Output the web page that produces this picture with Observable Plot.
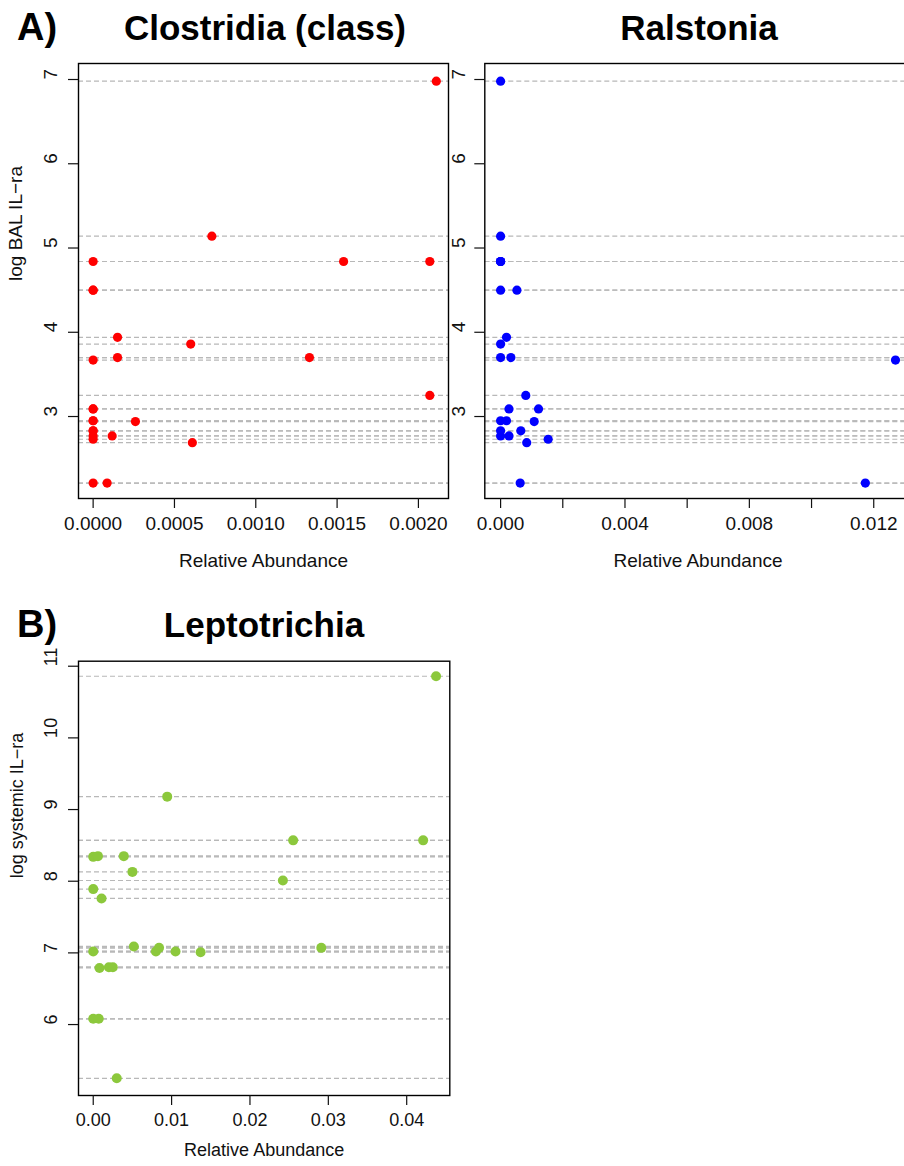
<!DOCTYPE html>
<html><head><meta charset="utf-8">
<script src="https://cdn.jsdelivr.net/npm/d3@7"></script>
<script src="https://cdn.jsdelivr.net/npm/@observablehq/plot@0.6"></script>
<style>
html,body{margin:0;padding:0;width:904px;height:1166px;overflow:hidden;background:#fff;}
#root{position:relative;width:904px;height:1166px;font-family:"Liberation Sans",Arial,sans-serif;}
.panel{position:absolute;}
.ttl{position:absolute;font-weight:bold;line-height:1;white-space:nowrap;color:#000;}
</style></head><body><div id="root"></div>
<script>
// ---- Data ----
// Panel A: log BAL IL-ra per subject (shared by both A panels)
const balILra = [6.98, 5.14, 4.84, 4.84, 4.84, 4.50, 4.50, 3.94, 3.86, 3.70, 3.70, 3.67, 3.25,
  3.09, 3.09, 2.95, 2.95, 2.94, 2.83, 2.83, 2.77, 2.77, 2.73, 2.69, 2.21, 2.21];
// Relative abundance of Clostridia (class) for the same subjects
const clostridiaAbund = [0.00211, 0.00073, 0, 0.00154, 0.00207, 0, 0, 0.00015, 0.00060, 0.00015,
  0.00133, 0, 0.00207, 0, 0, 0, 0, 0.00026, 0, 0, 0, 0.000117, 0, 0.00061, 0, 0.000086];
// Relative abundance of Ralstonia for the same subjects
const ralstoniaAbund = [0, 0, 0, 0, 0, 0, 0.000525, 0.00019, 0, 0, 0.00033, 0.0127, 0.00081,
  0.00027, 0.00122, 0, 0.00019, 0.00108, 0, 0.00065, 0, 0.00027, 0.00153, 0.00084, 0.00063, 0.01173];
// Panel B: log systemic IL-ra and Leptotrichia relative abundance
const systemicILra = [10.86, 9.18, 8.57, 8.57, 8.34, 8.35, 8.35, 8.13, 8.01, 7.89, 7.76, 7.09,
  7.02, 7.07, 7.02, 7.01, 7.07, 7.02, 6.79, 6.80, 6.80, 6.08, 6.08, 5.25];
const leptoAbund = [0.04375, 0.00944, 0.02551, 0.0421, 0, 0.0006, 0.0039, 0.0050, 0.0242, 0,
  0.00106, 0.00518, 0.0080, 0.0084, 0.0105, 0.0137, 0.0291, 0, 0.0008, 0.0020, 0.0025, 0, 0.0007, 0.0030];

// Tick values
const clostridiaTicks = [0, 0.0005, 0.0010, 0.0015, 0.0020];
const ralstoniaTicks = [0, 0.002, 0.004, 0.006, 0.008, 0.010, 0.012];
const ralstoniaLabelled = [0, 0.004, 0.008, 0.012];
const leptoTicks = [0, 0.01, 0.02, 0.03, 0.04];
const balTicks = [3, 4, 5, 6, 7];
const sysTicks = [6, 7, 8, 9, 10, 11];

const FONT = '"Liberation Sans", Arial, sans-serif';

function panel(o) {
  const data = o.xs.map((x, i) => ({x, y: o.ys[i]}));
  const marks = [
    Plot.ruleY(o.ys, {stroke: "#b8b8b8", strokeDasharray: "5,3", strokeWidth: 1.2}),
    Plot.dot(data, {x: "x", y: "y", r: o.r, fill: o.color, stroke: "none"}),
    Plot.frame({stroke: "#000", strokeWidth: 1.4}),
    Plot.axisX({ticks: o.xTicks, tickSize: 10, tickPadding: o.xTickPad, tickFormat: o.xFmt, label: null, strokeWidth: 1.2}),
    Plot.axisY({ticks: o.yTicks, tickSize: 10, tickFormat: () => "", label: null, strokeWidth: 1.2}),
    Plot.text(o.yTicks, {y: d => d, text: d => String(d), frameAnchor: "left", dx: o.yTickDx, rotate: -90, lineAnchor: "middle"}),
    Plot.text(["Relative Abundance"], {frameAnchor: "bottom", dy: o.xLabelDy, lineAnchor: "middle", text: d => d})
  ];
  if (o.yLabel) marks.push(Plot.text([o.yLabel], {frameAnchor: "left", dx: o.yLabelDx, rotate: -90, lineAnchor: "middle", text: d => d}));
  return Plot.plot({
    width: o.width, height: o.height,
    marginLeft: o.mL, marginRight: o.mR, marginTop: o.mT, marginBottom: o.mB,
    style: {background: "transparent", maxWidth: "none", fontFamily: FONT, fontSize: o.fontSize + "px", color: "#111", overflow: "visible"},
    x: {domain: o.xDomain},
    y: {domain: o.yDomain},
    marks
  });
}

const root = document.getElementById("root");
function place(node, left, top) {
  const d = document.createElement("div");
  d.className = "panel"; d.style.left = left + "px"; d.style.top = top + "px";
  d.appendChild(node); root.appendChild(d);
}
function title(text, size, left, top, center) {
  const d = document.createElement("div");
  d.className = "ttl"; d.textContent = text;
  d.style.fontSize = size + "px"; d.style.left = left + "px"; d.style.top = top + "px";
  if (center) d.style.transform = "translateX(-50%)";
  root.appendChild(d);
}

// Ralstonia (drawn first, extends past the right edge)
place(panel({
  xs: ralstoniaAbund, ys: balILra, color: "#0000ff", r: 4.6,
  xDomain: [-0.000508, 0.013208], yDomain: [2.027, 7.19],
  xTicks: ralstoniaTicks, xFmt: d => ralstoniaLabelled.some(v => Math.abs(v - d) < 1e-9) ? d.toFixed(3) : "",
  yTicks: balTicks, yTickDx: -26, xTickPad: 8, xLabelDy: 62,
  width: 480, height: 590, mL: 44.3, mR: 9.2, mT: 63, mB: 92, fontSize: 19
}), 440, 0);

// Clostridia
place(panel({
  xs: clostridiaAbund, ys: balILra, color: "#ff0000", r: 4.6,
  xDomain: [-0.00009, 0.002185], yDomain: [2.027, 7.19],
  xTicks: clostridiaTicks, xFmt: d => d.toFixed(4),
  yTicks: balTicks, yTickDx: -28, xTickPad: 8, xLabelDy: 62,
  yLabel: "log BAL IL\u2212ra", yLabelDx: -63,
  width: 460, height: 590, mL: 78, mR: 12, mT: 63, mB: 92, fontSize: 19
}), 0, 0);

// Leptotrichia
place(panel({
  xs: leptoAbund, ys: systemicILra, color: "#8cc83c", r: 5,
  xDomain: [-0.00188, 0.0455], yDomain: [5.01, 11.07],
  xTicks: leptoTicks, xFmt: d => d.toFixed(2),
  yTicks: sysTicks, yTickDx: -27, xTickPad: 8, xLabelDy: 55,
  yLabel: "log systemic IL\u2212ra", yLabelDx: -61.5,
  width: 460, height: 566, mL: 78, mR: 10.7, mT: 60.7, mB: 71, fontSize: 18
}), 0, 600);

// Titles
title("A)", 38, 17, 7.8, false);
title("Clostridia (class)", 35, 265, 10.4, true);
title("Ralstonia", 35, 699, 10.4, true);
title("B)", 38, 17, 604.8, false);
title("Leptotrichia", 35, 264, 607.4, true);
</script></body></html>
